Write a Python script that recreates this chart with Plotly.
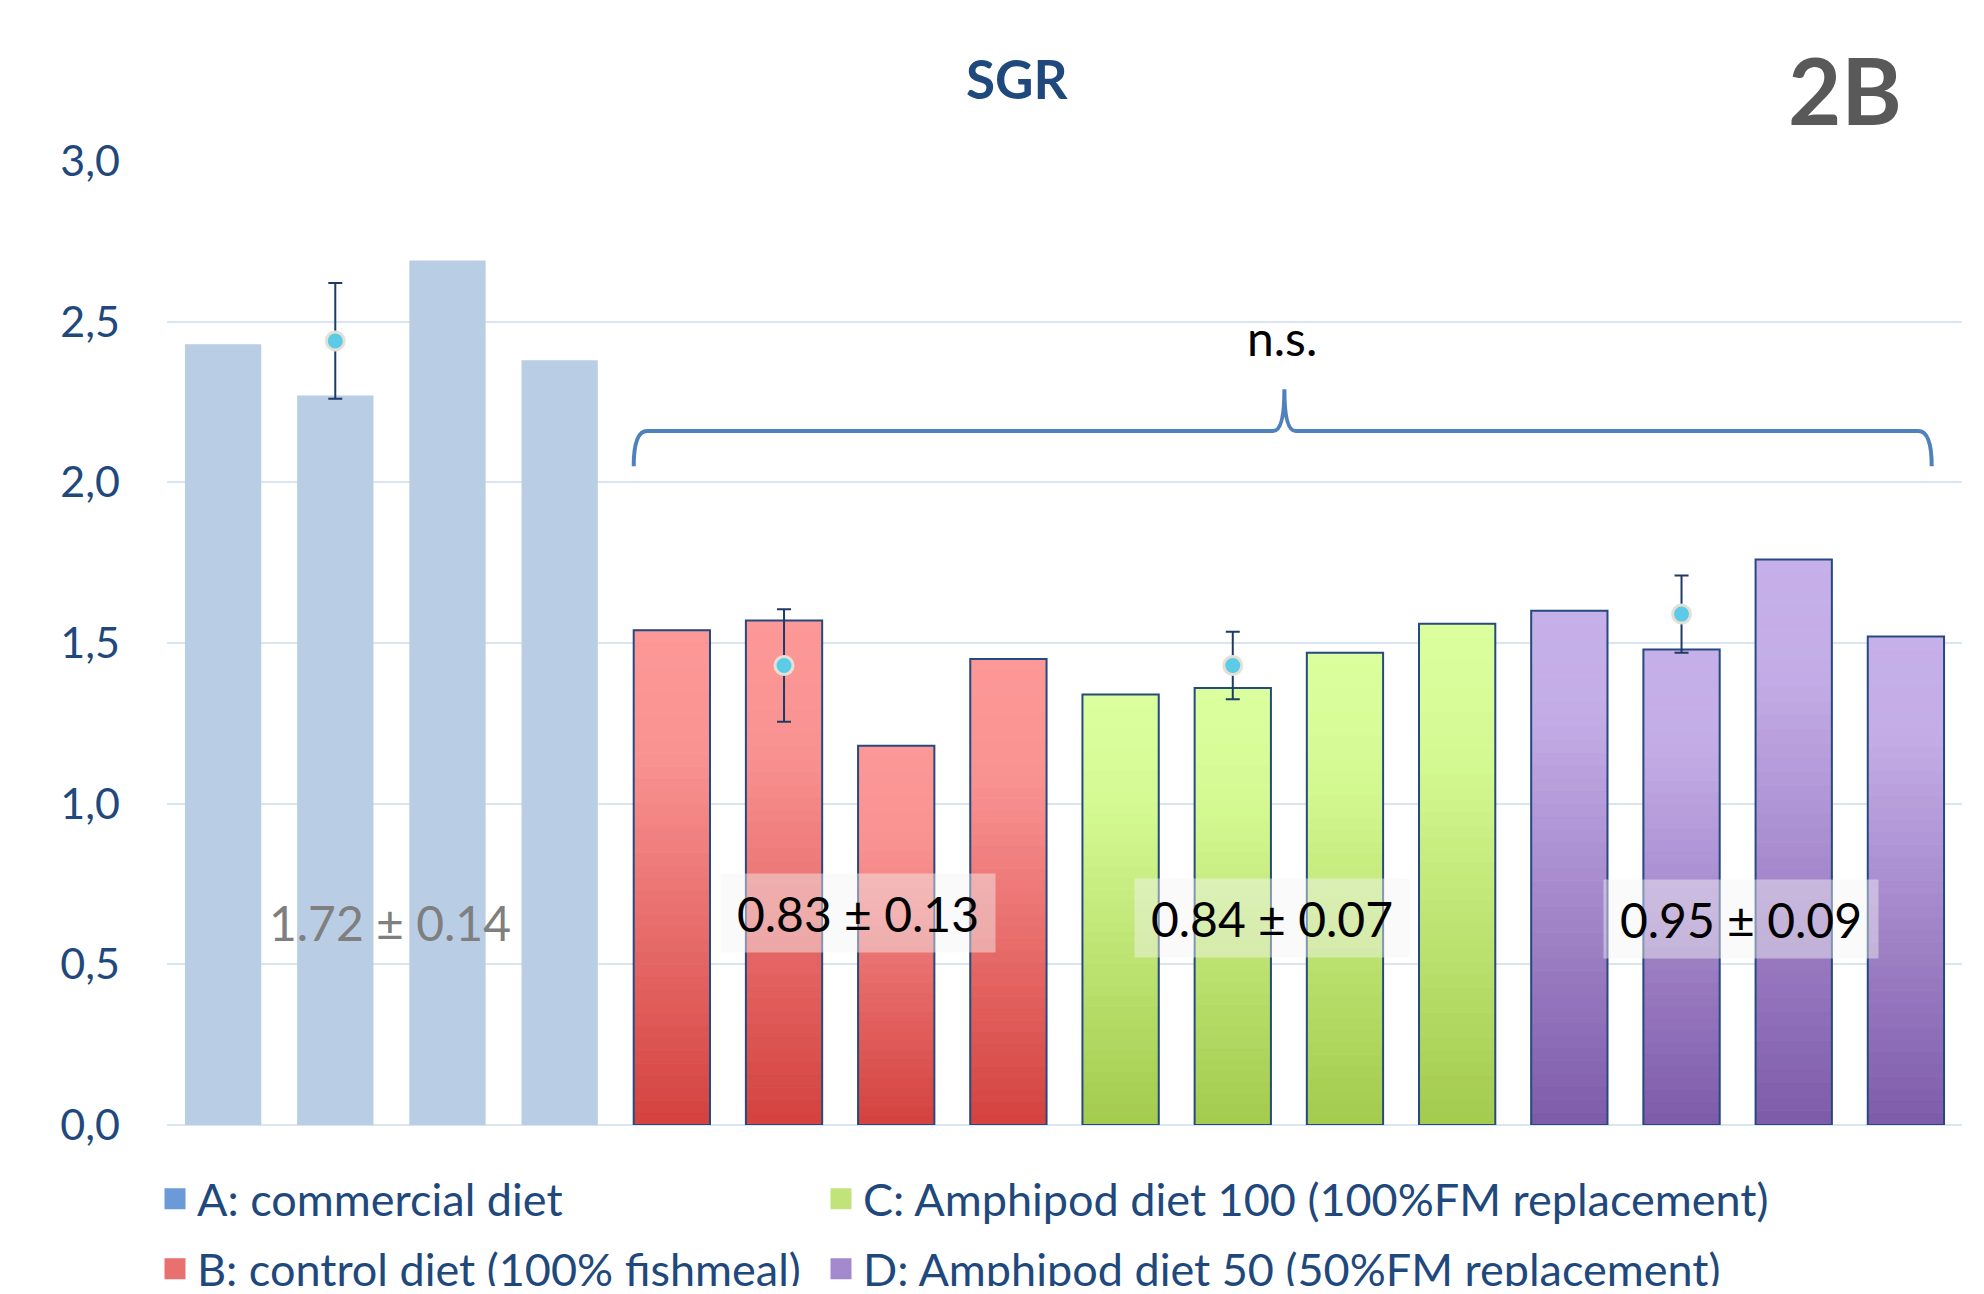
import plotly.graph_objects as go

# ---------------- data ----------------
bar_group = ["A"] * 4 + ["B"] * 4 + ["C"] * 4 + ["D"] * 4
sgr_values = [2.43, 2.27, 2.69, 2.38,
              1.54, 1.57, 1.18, 1.45,
              1.34, 1.36, 1.47, 1.56,
              1.60, 1.48, 1.76, 1.52]
mean_pos = [1, 5, 9, 13]
mean_values = [2.44, 1.43, 1.43, 1.59]
mean_err = [0.18, 0.175, 0.105, 0.12]
group_labels = ["1.72 ± 0.14", "0.83 ± 0.13", "0.84 ± 0.07", "0.95 ± 0.09"]
legend_names = {
    "A": "A: commercial diet",
    "B": "B: control diet (100% fishmeal)",
    "C": "C: Amphipod diet 100 (100%FM replacement)",
    "D": "D: Amphipod diet 50 (50%FM replacement)",
}
y_ticks = [0.0, 0.5, 1.0, 1.5, 2.0, 2.5, 3.0]
title_text = "SGR"
panel_text = "2B"
sig_text = "n.s."

# ---------------- style ----------------
FONT = "Lato"
NAVY = "#1F497D"
BAR_W = 0.68
A_COLOR = "#B9CDE5"
GRAD = {
    "B": [(0.0, "#D3423F"), (0.75, "#F99392"), (1.0, "#FC9897")],
    "C": [(0.0, "#A3CB4D"), (0.75, "#D5FA94"), (1.0, "#DBFF9E")],
    "D": [(0.0, "#7E5BA9"), (0.8, "#C4ADE7"), (1.0, "#C6B0E9")],
}
LEG_COL = {"A": "#6A9AD8", "B": "#E8706E", "C": "#C2E379", "D": "#A589CF"}

# the page body adds an 8px margin, so the figure is 16px smaller than the window
W, H = 1968, 1278
ML, MR, MT, MB = 159, 14, 153, 161
PW, PH = W - ML - MR, H - MT - MB


def h2r(h):
    h = h.lstrip("#")
    return tuple(int(h[i:i + 2], 16) for i in (0, 2, 4))


def grad_color(stops, t):
    for (t0, c0), (t1, c1) in zip(stops[:-1], stops[1:]):
        if t0 <= t <= t1:
            f = (t - t0) / (t1 - t0) if t1 > t0 else 0
            a, b = h2r(c0), h2r(c1)
            r = [round(a[i] + (b[i] - a[i]) * f) for i in range(3)]
            return "rgb(%d,%d,%d)" % tuple(r)
    return stops[-1][1]


fig = go.Figure()

idx = list(range(len(sgr_values)))
a_idx = [i for i in idx if bar_group[i] == "A"]
g_idx = [i for i in idx if bar_group[i] != "A"]

# group A bars (flat fill)
fig.add_trace(go.Bar(
    x=a_idx, y=[sgr_values[i] for i in a_idx], width=BAR_W,
    marker=dict(color=A_COLOR, line=dict(width=0)),
    showlegend=False, hoverinfo="skip"))

# gradient bars for B, C, D built from stacked slices of each value
N = 40
for k in range(N):
    t = (k + 0.5) / N
    cols = [grad_color(GRAD[bar_group[i]], t) for i in g_idx]
    fig.add_trace(go.Bar(
        x=g_idx,
        y=[sgr_values[i] / N for i in g_idx],
        base=[sgr_values[i] * k / N for i in g_idx],
        width=BAR_W,
        marker=dict(color=cols, line=dict(color=cols, width=1)),
        showlegend=False, hoverinfo="skip"))

# outlines
fig.add_trace(go.Bar(
    x=g_idx, y=[sgr_values[i] for i in g_idx], width=BAR_W,
    marker=dict(color="rgba(0,0,0,0)", line=dict(color="#264A7E", width=2)),
    showlegend=False, hoverinfo="skip"))

# group means with error bars
fig.add_trace(go.Scatter(
    x=mean_pos, y=mean_values, mode="markers",
    marker=dict(size=18, color="#5CCBE8", line=dict(color="#E4E0D4", width=3)),
    error_y=dict(type="data", array=mean_err, color="#1F3A66", thickness=2, width=7),
    showlegend=False, hoverinfo="skip"))

# legend entries (one legend per position)
leg_of = {"A": "legend", "B": "legend2", "C": "legend3", "D": "legend4"}
for g in ("A", "B", "C", "D"):
    fig.add_trace(go.Scatter(
        x=[None], y=[None], mode="markers", name=legend_names[g], legend=leg_of[g],
        marker=dict(symbol="square", size=16, color=LEG_COL[g],
                    line=dict(color=LEG_COL[g], width=5))))

# group value labels
label_x = [1.49, 5.66, 9.35, 13.53]
label_y = [0.632, 0.66, 0.644, 0.64]
for j, txt in enumerate(group_labels):
    boxed = j > 0
    fig.add_annotation(
        x=label_x[j], y=label_y[j], xref="x", yref="y", text=txt, showarrow=False,
        font=dict(family=FONT, size=48, color="#7F7F7F" if j == 0 else "#000000"),
        bgcolor="rgba(245,245,245,0.45)" if boxed else "rgba(0,0,0,0)",
        width=272, height=76, align="center", valign="middle")

# n.s. and brace
fig.add_annotation(x=9.44, y=2.45, xref="x", yref="y", text=sig_text, showarrow=False,
                   font=dict(family=FONT, size=48, color="#000000"))
brace = ("M 3.66,2.05 Q 3.66,2.16 3.78,2.16 L 9.36,2.16 Q 9.46,2.16 9.46,2.29 "
         "Q 9.46,2.16 9.56,2.16 L 15.11,2.16 Q 15.23,2.16 15.23,2.05")
fig.add_shape(type="path", path=brace, xref="x", yref="y",
              line=dict(color="#4F81BD", width=4))

# title and panel label
fig.add_annotation(x=(1009.5 - ML) / PW, y=(H - MB - 70.5) / PH, xref="paper", yref="paper",
                   text="<b>%s</b>" % title_text, showarrow=False,
                   font=dict(family=FONT, size=53, color=NAVY),
                   xanchor="center", yanchor="middle")
fig.add_annotation(x=(1837 - ML) / PW, y=(H - MB - 81) / PH, xref="paper", yref="paper",
                   text="<b>%s</b>" % panel_text, showarrow=False,
                   font=dict(family=FONT, size=92, color="#595959"),
                   xanchor="center", yanchor="middle")

leg_common = dict(orientation="h", xref="container", yref="container",
                  xanchor="left", yanchor="middle", itemwidth=34,
                  bgcolor="rgba(0,0,0,0)",
                  font=dict(family=FONT, size=45, color=NAVY))
col_x = [145 / W, 811 / W]
row_y = [1 - 1191 / H, 1 - 1261 / H]

fig.update_layout(
    width=W, height=H,
    margin=dict(l=ML, r=MR, t=MT, b=MB),
    paper_bgcolor="white", plot_bgcolor="white",
    barmode="overlay",
    separators=", ",
    font=dict(family=FONT, color=NAVY),
    xaxis=dict(range=[-0.5, 15.5], showticklabels=False, showgrid=False,
               zeroline=False, ticks="", fixedrange=True),
    yaxis=dict(range=[0, 3.0], tickvals=y_ticks, tickformat=".1f",
               showgrid=True, gridcolor="#DAE5F2", gridwidth=2,
               zeroline=True, zerolinecolor="#DAE5F2", zerolinewidth=2,
               ticks="", ticklabelstandoff=46,
               tickfont=dict(family=FONT, size=43, color=NAVY)),
    legend=dict(x=col_x[0], y=row_y[0], **leg_common),
    legend2=dict(x=col_x[0], y=row_y[1], **leg_common),
    legend3=dict(x=col_x[1], y=row_y[0], **leg_common),
    legend4=dict(x=col_x[1], y=row_y[1], **leg_common),
)

fig.write_html("out.html")
